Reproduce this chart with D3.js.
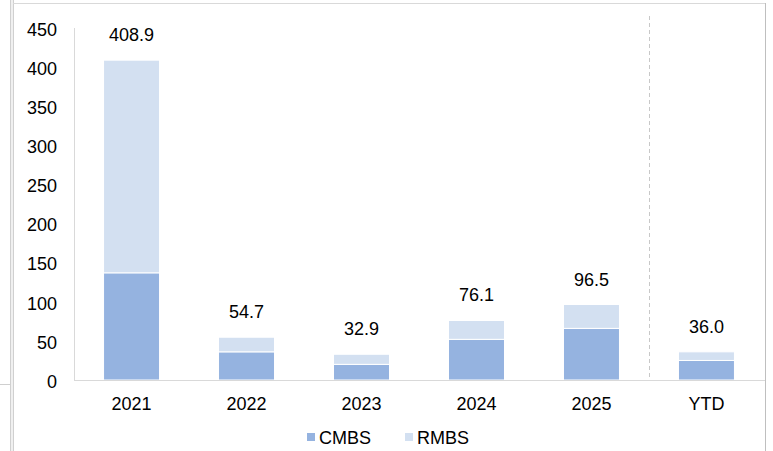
<!DOCTYPE html>
<html><head><meta charset="utf-8">
<script src="https://cdn.jsdelivr.net/npm/d3@7"></script>
<style>body{margin:0;background:#fff;}svg{display:block;font-family:"Liberation Sans",Arial,sans-serif;}</style>
</head><body>
<svg id="c" width="773" height="451"></svg>
<script>
const categories = ["2021","2022","2023","2024","2025","YTD"];
const cmbs = [137, 36, 20, 52, 66, 25];
const totals = [408.9, 54.7, 32.9, 76.1, 96.5, 36.0];
const rmbs = totals.map((t,i)=>+(t - cmbs[i]).toFixed(1));
const yTicks = [0,50,100,150,200,250,300,350,400,450];
const seriesNames = ["CMBS","RMBS"];
const colors = {CMBS:"#95B3E0", RMBS:"#D3E0F1"};
const FS = 18;

const svg = d3.select("#c");
// frame
svg.append("line").attr("x1",10.5).attr("x2",10.5).attr("y1",0).attr("y2",451).attr("stroke","#d0d0d0");
svg.append("line").attr("x1",13.5).attr("x2",13.5).attr("y1",0).attr("y2",451).attr("stroke","#d0d0d0");
svg.append("rect").attr("x",11).attr("y",0).attr("width",2).attr("height",451).attr("fill","#f0f0f0");
svg.append("line").attr("x1",0).attr("x2",10).attr("y1",384.5).attr("y2",384.5).attr("stroke","#cfcfcf");
svg.append("line").attr("x1",13).attr("x2",766).attr("y1",3.5).attr("y2",3.5).attr("stroke","#d9d9d9");
svg.append("line").attr("x1",765.5).attr("x2",765.5).attr("y1",3).attr("y2",451).attr("stroke","#bfbfbf");

const x = d3.scaleBand().domain(categories).range([74,764]).paddingInner(0.513).paddingOuter(0.257);
const y = d3.scaleLinear().domain([0,450]).range([380,28]);

const data = categories.map((c,i)=>({cat:c, CMBS:cmbs[i], RMBS:rmbs[i], total:totals[i]}));
const stack = d3.stack().keys(seriesNames)(data);

// axes
svg.append("line").attr("x1",74.5).attr("x2",74.5).attr("y1",y(450)).attr("y2",y(0)).attr("stroke","#d9d9d9");
const yAxis = d3.axisLeft(y).tickValues(yTicks).tickSize(0).tickPadding(0);
const ya = svg.append("g").attr("transform","translate(57,1)").call(yAxis);
ya.select(".domain").remove();
ya.selectAll("text").attr("font-size",FS).attr("fill","#000").attr("font-family","Liberation Sans, Arial, sans-serif").attr("dy","0.35em");

// dashed separator
const sepX = x("YTD") - x.step()*x.paddingInner()/2;
svg.append("line").attr("x1",Math.round(sepX)+0.5).attr("x2",Math.round(sepX)+0.5).attr("y1",16).attr("y2",380)
  .attr("stroke","#c8c8c8").attr("stroke-dasharray","4,3");

// bars
svg.selectAll("g.s").data(stack).join("g").attr("class","s").attr("fill",d=>colors[d.key])
  .selectAll("rect").data(d=>d).join("rect")
  .attr("x",d=>x(d.data.cat)).attr("width",x.bandwidth())
  .attr("y",d=>y(d[1])).attr("height",d=>y(d[0])-y(d[1]))
  .attr("stroke","#fff").attr("stroke-width",1);

// x axis line
svg.append("line").attr("x1",74).attr("x2",765).attr("y1",380.5).attr("y2",380.5).attr("stroke","#d9d9d9");
const xAxis = d3.axisBottom(x).tickSize(0).tickPadding(0);
const xa = svg.append("g").attr("transform","translate(0,404)").call(xAxis);
xa.select(".domain").remove();
xa.selectAll("text").attr("font-size",FS).attr("fill","#000").attr("font-family","Liberation Sans, Arial, sans-serif").attr("dy","0.35em");

// total labels
svg.selectAll("text.tot").data(data).join("text").attr("class","tot")
  .attr("x",d=>x(d.cat)+x.bandwidth()/2).attr("y",d=>y(d.total)-19)
  .attr("text-anchor","middle").attr("font-size",FS).attr("fill","#000")
  .text(d=>d.total.toFixed(1));

// legend
const leg = svg.append("g");
const legPos = [{k:"CMBS",x:307},{k:"RMBS",x:405}];
legPos.forEach(p=>{
  leg.append("rect").attr("x",p.x).attr("y",433).attr("width",8).attr("height",8).attr("fill",colors[p.k]);
  leg.append("text").attr("x",p.x+12).attr("y",443.5).attr("font-size",FS).attr("fill","#000").text(p.k);
});
</script>
</body></html>
